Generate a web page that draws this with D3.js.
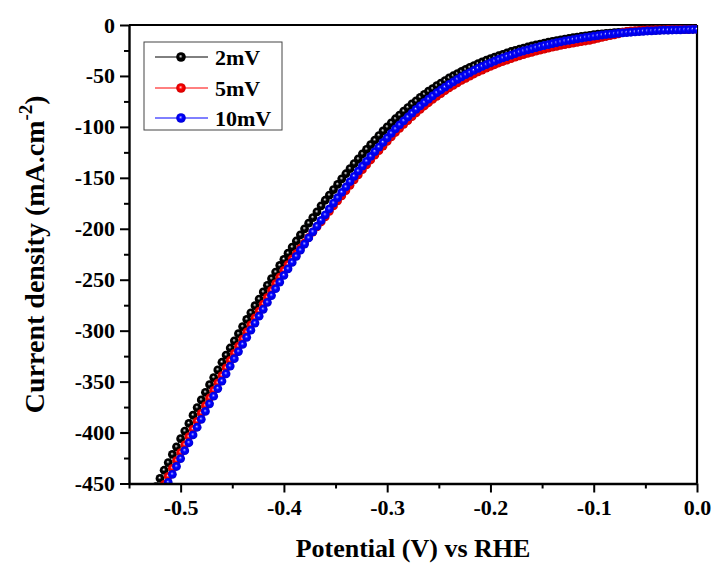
<!DOCTYPE html>
<html><head><meta charset="utf-8">
<script src="https://cdn.jsdelivr.net/npm/d3@7"></script>
<style>body{margin:0;background:#fff} svg{display:block} text{font-family:'Liberation Serif','Times New Roman',serif;font-weight:bold}</style>
</head><body>
<svg id="c" width="717" height="566"></svg>
<script>
// ---- data ----
const potential = [
-0.524,-0.520,-0.516,-0.512,-0.508,-0.504,-0.500,-0.496,-0.492,-0.488,
-0.484,-0.480,-0.476,-0.472,-0.468,-0.464,-0.460,-0.456,-0.452,-0.448,
-0.444,-0.440,-0.436,-0.432,-0.428,-0.424,-0.420,-0.416,-0.412,-0.408,
-0.404,-0.400,-0.396,-0.392,-0.388,-0.384,-0.380,-0.376,-0.372,-0.368,
-0.364,-0.360,-0.356,-0.352,-0.348,-0.344,-0.340,-0.336,-0.332,-0.328,
-0.324,-0.320,-0.316,-0.312,-0.308,-0.304,-0.300,-0.296,-0.292,-0.288,
-0.284,-0.280,-0.276,-0.272,-0.268,-0.264,-0.260,-0.256,-0.252,-0.248,
-0.244,-0.240,-0.236,-0.232,-0.228,-0.224,-0.220,-0.216,-0.212,-0.208,
-0.204,-0.200,-0.196,-0.192,-0.188,-0.184,-0.180,-0.176,-0.172,-0.168,
-0.164,-0.160,-0.156,-0.152,-0.148,-0.144,-0.140,-0.136,-0.132,-0.128,
-0.124,-0.120,-0.116,-0.112,-0.108,-0.104,-0.100,-0.096,-0.092,-0.088,
-0.084,-0.080,-0.076,-0.072,-0.068,-0.064,-0.060,-0.056,-0.052,-0.048,
-0.044,-0.040,-0.036,-0.032,-0.028,-0.024,-0.020,-0.016,-0.012,-0.008,
-0.004,0.000];

const current2mV = [
-453,-445,-437,-429.5,-421.5,-414,-406,-398.5,-391,-383,
-375.5,-368,-360.5,-353,-346,-338.5,-331,-324,-317,-310,
-303,-296,-289,-282.5,-275.5,-269,-262,-255.5,-249,-242.5,
-236,-230,-224,-218,-212,-206,-200,-194.5,-189,-183.5,
-177.5,-172,-167,-161.5,-156.5,-151,-146,-141,-136,-131.5,
-126.5,-122,-117.5,-113,-108.5,-104,-100,-96,-92,-88.5,
-84.5,-81,-77.5,-74.5,-71,-68,-65,-62.5,-59.5,-57,
-54.5,-52,-49.8,-47.7,-45.6,-43.5,-41.5,-39.8,-38,-36.3,
-34.6,-33,-31.6,-30.2,-28.8,-27.4,-26,-24.9,-23.8,-22.7,
-21.6,-20.5,-19.6,-18.7,-17.8,-16.9,-16,-15.3,-14.6,-13.9,
-13.2,-12.5,-11.9,-11.3,-10.7,-10.1,-9.5,-9.1,-8.7,-8.3,
-7.9,-7.5,-7.2,-6.9,-6.6,-6.3,-6,-5.8,-5.6,-5.4,
-5.2,-5,-4.9,-4.8,-4.7,-4.6,-4.5,-4.4,-4.3,-4.2,
-4.1,-4];

const current5mV = [
-466,-459,-451,-443,-435.1,-427.5,-419.6,-412,-404.1,-396.6,
-389,-381.1,-373.6,-366.1,-358.6,-351.3,-344.1,-336.6,-329.3,-322.3,
-315.3,-308.3,-301.3,-294.3,-287.4,-280.8,-273.9,-267.3,-260.4,-253.9,
-247.4,-240.9,-235.1,-229.5,-224.3,-219,-213.8,-208.5,-203.2,-198.2,
-193.3,-188.3,-182.9,-177.6,-172.6,-167.6,-162.5,-157.3,-152,-147,
-142,-137.3,-132.5,-127.8,-123.3,-118.8,-114.3,-109.8,-105.5,-101.5,
-97.5,-93.8,-90,-86.3,-82.8,-79.5,-76.3,-73,-70,-67.3,
-64.5,-61.8,-59.3,-56.8,-54.4,-52.3,-50.2,-48.1,-46,-44.2,
-42.4,-40.7,-39,-37.3,-35.8,-34.4,-33,-31.6,-30.2,-29,
-27.9,-26.8,-25.7,-24.6,-23.6,-22.7,-21.8,-20.9,-20,-19.2,
-18.5,-17.8,-17.1,-16.4,-15.7,-15.1,-14.2,-13.2,-12.2,-11.3,
-10.5,-9.7,-8.7,-7,-6.3,-5.9,-5.6,-5.3,-5.1,-4.9,
-4.7,-4.6,-4.5,-4.5,-4.4,-4.4,-4.3,-4.3,-4.2,-4.2,
-4.1,-4.1];

const current10mV = [
-472,-464,-456,-449,-441,-433.3,-425.5,-417.8,-410,-402.3,
-394.8,-387,-379.3,-371.8,-364.3,-356.8,-349.5,-342.3,-334.8,-327.5,
-320.5,-313.5,-306.5,-299.5,-292.5,-285.8,-279,-272.3,-265.5,-258.8,
-252.3,-245.8,-239.3,-233,-227,-221,-215,-209,-203,-197.3,
-191.8,-186.3,-180.5,-174.8,-169.5,-164.3,-159,-153.8,-148.5,-143.5,
-138.5,-133.8,-129,-124.3,-119.8,-115.3,-110.8,-106.3,-102,-98,
-94,-90.3,-86.5,-82.8,-79.3,-76,-72.8,-69.5,-66.5,-63.8,
-61,-58.3,-55.8,-53.3,-50.9,-48.8,-46.7,-44.6,-42.5,-40.7,
-38.9,-37.2,-35.5,-33.8,-32.3,-30.9,-29.5,-28.1,-26.7,-25.5,
-24.4,-23.3,-22.2,-21.1,-20.1,-19.2,-18.3,-17.4,-16.5,-15.7,
-15,-14.3,-13.6,-12.9,-12.2,-11.6,-11,-10.4,-9.8,-9.3,
-8.9,-8.5,-8.1,-7.7,-7.4,-7.1,-6.8,-6.5,-6.2,-5.9,
-5.7,-5.5,-5.3,-5.1,-5,-4.9,-4.8,-4.7,-4.6,-4.5,
-4.4,-4.3];

const seriesNames = ["2mV", "5mV", "10mV"];
const seriesColors = ["#000000", "#ff0000", "#0000ff"];
const seriesLight = ["#9a9a9a", "#ff7a7a", "#6a6aff"];
const seriesDark = ["#000000", "#d00000", "#0000d8"];
const xMajorTicks = [-0.5, -0.4, -0.3, -0.2, -0.1, 0.0];
const xMinorTicks = [-0.55, -0.45, -0.35, -0.25, -0.15, -0.05];
const yMajorTicks = [0, -50, -100, -150, -200, -250, -300, -350, -400, -450];
const yMinorTicks = [-25, -75, -125, -175, -225, -275, -325, -375, -425];
const xTitle = "Potential (V) vs RHE";

// ---- layout ----
const L = 129, R = 697, T = 25, B = 483.5;
const svg = d3.select("#c");
const FONT = "'Liberation Serif','Times New Roman',serif";

const x = d3.scaleLinear().domain([-0.55, 0]).range([L, R]);
const y = d3.scaleLinear().domain([-450, 0]).range([B, T]);

const defs = svg.append("defs");
defs.append("clipPath").attr("id", "clip")
  .append("rect").attr("x", L).attr("y", T - 3).attr("width", R - L).attr("height", B - T + 3);
seriesColors.forEach((c, i) => {
  const g = defs.append("radialGradient").attr("id", "g" + i)
    .attr("cx", "0.5").attr("cy", "0.5").attr("r", "0.5").attr("fx", "0.45").attr("fy", "0.4");
  g.append("stop").attr("offset", "0%").attr("stop-color", "#ffffff");
  g.append("stop").attr("offset", "14%").attr("stop-color", seriesLight[i]);
  g.append("stop").attr("offset", "40%").attr("stop-color", c);
  g.append("stop").attr("offset", "100%").attr("stop-color", seriesDark[i]);
});

// frame top/right
svg.append("line").attr("x1", L).attr("x2", R).attr("y1", T).attr("y2", T)
  .attr("stroke", "#000").attr("stroke-width", 2.2);
svg.append("line").attr("x1", R).attr("x2", R).attr("y1", T).attr("y2", B)
  .attr("stroke", "#000").attr("stroke-width", 2.2);

// data
const seriesValues = [current2mV, current5mV, current10mV];
const plot = svg.append("g").attr("clip-path", "url(#clip)");
const line = d3.line().x(d => x(d[0])).y(d => y(d[1]));
seriesValues.forEach((vals, i) => {
  const pts = potential.map((p, k) => [p, vals[k]]);
  const g = plot.append("g");
  g.append("path").datum(pts).attr("d", line).attr("fill", "none")
    .attr("stroke", seriesColors[i]).attr("stroke-width", 1);
  g.selectAll("circle").data(pts).join("circle")
    .attr("cx", d => x(d[0])).attr("cy", d => y(d[1])).attr("r", 4.4)
    .attr("fill", `url(#g${i})`);
});

// axes
function styleAxis(g) {
  g.attr("font-family", null).attr("font-size", null);
  g.select(".domain").attr("stroke-width", 2.4);
  g.selectAll(".tick line").attr("stroke-width", 2);
  g.selectAll(".tick text").style("font-family", FONT).style("font-weight", "bold")
    .style("font-size", "22px").attr("fill", "#000");
}
const xAxisG = svg.append("g").attr("transform", `translate(0,${B})`)
  .call(d3.axisBottom(x).tickValues(xMajorTicks).tickSize(9).tickSizeOuter(0)
    .tickPadding(5).tickFormat(d => d.toFixed(1)));
styleAxis(xAxisG);
xAxisG.selectAll(".tick text").attr("dy", "0.78em");
const xMinorG = svg.append("g").attr("transform", `translate(0,${B})`)
  .call(d3.axisBottom(x).tickValues(xMinorTicks).tickSize(5).tickSizeOuter(0).tickFormat(""));
xMinorG.select(".domain").remove();
xMinorG.selectAll(".tick line").attr("stroke-width", 2);

const yAxisG = svg.append("g").attr("transform", `translate(${L},0)`)
  .call(d3.axisLeft(y).tickValues(yMajorTicks).tickSize(9).tickSizeOuter(0)
    .tickPadding(5).tickFormat(d => String(d)));
styleAxis(yAxisG);
const yMinorG = svg.append("g").attr("transform", `translate(${L},0)`)
  .call(d3.axisLeft(y).tickValues(yMinorTicks).tickSize(5).tickSizeOuter(0).tickFormat(""));
yMinorG.select(".domain").remove();
yMinorG.selectAll(".tick line").attr("stroke-width", 2);

// axis titles
svg.append("text").attr("x", (L + R) / 2).attr("y", 557).attr("text-anchor", "middle")
  .style("font-size", "26px").text(xTitle);
const yt = svg.append("text").attr("transform", `translate(44,${(T + B) / 2}) rotate(-90)`)
  .attr("text-anchor", "middle").style("font-size", "28px");
yt.append("tspan").text("Current density (mA.cm");
yt.append("tspan").style("font-size", "19px").attr("dy", -12).text("-2");
yt.append("tspan").attr("dy", 12).text(")");

// legend
const lg = svg.append("g");
lg.append("rect").attr("x", 144).attr("y", 42).attr("width", 138).attr("height", 88)
  .attr("fill", "#fff").attr("stroke", "#444").attr("stroke-width", 1);
const legY = [57, 88, 118];
seriesNames.forEach((n, i) => {
  lg.append("line").attr("x1", 155).attr("x2", 208).attr("y1", legY[i]).attr("y2", legY[i])
    .attr("stroke", seriesColors[i]).attr("stroke-width", 1);
  lg.append("circle").attr("cx", 181).attr("cy", legY[i]).attr("r", 4.8)
    .attr("fill", `url(#g${i})`);
  lg.append("text").attr("x", 215).attr("y", legY[i]).attr("dy", "0.36em")
    .style("font-size", "22px").text(n);
});
</script>
</body></html>
